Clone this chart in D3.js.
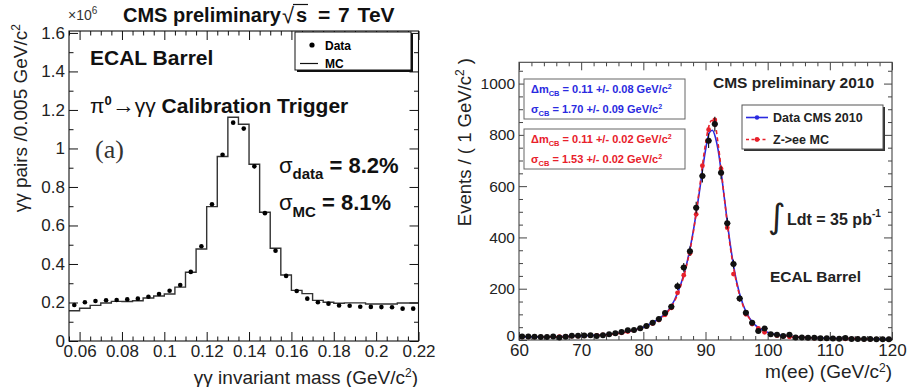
<!DOCTYPE html>
<html><head><meta charset="utf-8">
<script src="https://cdn.jsdelivr.net/npm/d3@7"></script>
<style>
body{margin:0;background:#fff;}
svg{display:block;font-family:"Liberation Sans",Arial,Helvetica,sans-serif;}
</style></head><body>
<svg id="c" width="908" height="387"></svg>
<script>
// ---------- Left panel: pi0 -> gamma gamma ----------
const pi0BinCenters = [0.0575,0.0625,0.0675,0.0725,0.0775,0.0825,0.0875,0.0925,0.0975,0.1025,0.1075,0.1125,0.1175,0.1225,0.1275,0.1325,0.1375,0.1425,0.1475,0.1525,0.1575,0.1625,0.1675,0.1725,0.1775,0.1825,0.1875,0.1925,0.1975,0.2025,0.2075,0.2125,0.2175];
const pi0Data = [0.187,0.201,0.208,0.212,0.213,0.216,0.220,0.230,0.244,0.261,0.291,0.359,0.492,0.710,0.967,1.134,1.103,0.907,0.664,0.469,0.338,0.260,0.220,0.201,0.194,0.184,0.183,0.178,0.177,0.176,0.175,0.168,0.168];
const pi0MC   = [0.157,0.170,0.185,0.197,0.206,0.205,0.209,0.223,0.234,0.244,0.280,0.357,0.478,0.698,0.958,1.162,1.126,0.918,0.669,0.482,0.343,0.263,0.246,0.211,0.201,0.196,0.198,0.198,0.192,0.192,0.192,0.197,0.197];
const pi0XTicks = [0.06,0.08,0.1,0.12,0.14,0.16,0.18,0.2,0.22];
const pi0YTicks = [0,0.2,0.4,0.6,0.8,1,1.2,1.4,1.6];

// ---------- Right panel: Z -> ee ----------
const zMass = [60.5,61.5,62.5,63.5,64.5,65.5,66.5,67.5,68.5,69.5,70.5,71.5,72.5,73.5,74.5,75.5,76.5,77.5,78.5,79.5,80.5,81.5,82.5,83.5,84.5,85.5,86.5,87.5,88.5,89.5,90.5,91.5,92.5,93.5,94.5,95.5,96.5,97.5,98.5,99.5,100.5,101.5,102.5,103.5,104.5,105.5,106.5,107.5,108.5,109.5,110.5,111.5,112.5,113.5,114.5,115.5,116.5,117.5,118.5,119.5];
const zData = [14,14,13,12,12,14,10,13,17,17,18,19,16,19,22,26,31,38,39,46,55,67,82,105,130,210,283,346,516,640,777,842,652,455,296,162,106,67,35,45,22,20,16,20,10,10,9,9,7,7,6,5,8,4,4,4,4,3,3,3];
const zMC = [12,12,12,12,12,13,13,14,15,15,16,17,18,20,22,25,28,33,38,45,53,64,78,98,125,184,253,338,490,680,820,858,668,438,257,160,100,62,45,30,22,17,14,12,10,9,8,7,6,6,5,5,4,4,4,3,3,3,3,3];
const fitMass = [60,65,70,74,77,80,82,84,85,86,87,88,89,90,90.6,91.1,91.6,92,93,94,95,96,97,98,100,103,106,110,115,120];
const fitData = [12,12,16,21,30,50,75,115,155,215,300,420,575,740,808,818,790,745,560,370,228,140,88,58,30,16,10,7,5,4];
const fitMCMass = [60,65,70,74,77,80,82,84,85,86,87,88,89,90,90.5,91,91.5,92,93,94,95,96,97,98,100,103,106,110,115,120];
const fitMC = [11,12,15,20,29,49,73,112,150,210,295,415,585,765,830,856,845,770,560,360,222,137,86,57,29,15,10,7,5,3];
const zXTicks = [60,70,80,90,100,110,120];
const zYTicks = [0,200,400,600,800,1000];

const svg = d3.select("#c");
const BLUE = "#2a2ae0", RED = "#e8202a";

function styleAxis(g, fs, col){
  g.select(".domain").remove();
  g.selectAll(".tick line").attr("stroke", col).attr("stroke-width", 1);
  g.selectAll(".tick text").attr("font-size", fs).attr("fill", "#222").attr("font-family", '"Liberation Sans",Arial,sans-serif');
}
function frameAxes(g, x, y, opt){
  const [x0,x1] = x.range(), [y0,y1] = y.range();
  const b = g.append("g").attr("transform",`translate(0,${y0})`)
    .call(d3.axisBottom(x).tickValues(opt.xMajor).tickSize(-opt.majLen).tickPadding(opt.xPad).tickFormat(opt.xFmt));
  styleAxis(b, opt.xFs, opt.col);
  const bm = g.append("g").attr("transform",`translate(0,${y0})`)
    .call(d3.axisBottom(x).tickValues(opt.xMinor).tickSize(-opt.minLen).tickFormat(""));
  styleAxis(bm, 10, opt.col);
  const t = g.append("g").attr("transform",`translate(0,${y1})`)
    .call(d3.axisTop(x).tickValues(opt.xMajor).tickSize(-opt.majLen).tickFormat(""));
  styleAxis(t, 10, opt.col);
  const tm = g.append("g").attr("transform",`translate(0,${y1})`)
    .call(d3.axisTop(x).tickValues(opt.xMinor).tickSize(-opt.minLen).tickFormat(""));
  styleAxis(tm, 10, opt.col);
  const l = g.append("g").attr("transform",`translate(${x0},0)`)
    .call(d3.axisLeft(y).tickValues(opt.yMajor).tickSize(-opt.majLen).tickPadding(opt.yPad).tickFormat(opt.yFmt));
  styleAxis(l, opt.yFs, opt.col);
  if (opt.yZeroShift) l.selectAll(".tick text").filter(d=>d===0).attr("dy", opt.yZeroShift);
  const lm = g.append("g").attr("transform",`translate(${x0},0)`)
    .call(d3.axisLeft(y).tickValues(opt.yMinor).tickSize(-opt.minLen).tickFormat(""));
  styleAxis(lm, 10, opt.col);
  const r = g.append("g").attr("transform",`translate(${x1},0)`)
    .call(d3.axisRight(y).tickValues(opt.yMajor).tickSize(-opt.majLen).tickFormat(""));
  styleAxis(r, 10, opt.col);
  const rm = g.append("g").attr("transform",`translate(${x1},0)`)
    .call(d3.axisRight(y).tickValues(opt.yMinor).tickSize(-opt.minLen).tickFormat(""));
  styleAxis(rm, 10, opt.col);
  g.append("rect").attr("x",x0).attr("y",y1).attr("width",x1-x0).attr("height",y0-y1)
    .attr("fill","none").attr("stroke",opt.col).attr("stroke-width",1.1);
}

// ================= LEFT =================
const xL = d3.scaleLinear().domain([0.055,0.22]).range([69,418.5]);
const yL = d3.scaleLinear().domain([0,1.61]).range([341,31]);
const gL = svg.append("g");

const stepPts = pi0BinCenters.map((c,i)=>[c-0.0025, pi0MC[i]]);
stepPts.push([pi0BinCenters[pi0BinCenters.length-1]+0.0025, pi0MC[pi0MC.length-1]]);
gL.append("path").datum(stepPts)
  .attr("d", d3.line().x(d=>xL(d[0])).y(d=>yL(d[1])).curve(d3.curveStepAfter))
  .attr("fill","none").attr("stroke","#333").attr("stroke-width",1.4);
gL.selectAll("circle.d").data(pi0BinCenters).join("circle")
  .attr("cx",d=>xL(d)).attr("cy",(d,i)=>yL(pi0Data[i])).attr("r",2.3).attr("fill","#000");

frameAxes(gL, xL, yL, {
  xMajor: pi0XTicks, xMinor: d3.range(0.055,0.2201,0.005).filter(v=>Math.abs(Math.round(v*50)-v*50)>1e-6),
  yMajor: pi0YTicks, yMinor: d3.range(0.1,1.61,0.2),
  majLen: 9, minLen: 4.5, xPad: 4, yPad: 4, xFs: 17, yFs: 17, col: "#111",
  xFmt: d=>String(+d.toFixed(2)), yFmt: d=>String(+d.toFixed(1))
});

gL.append("text").attr("transform","translate(27,24) rotate(-90)").attr("text-anchor","end")
  .attr("font-size",19).attr("fill","#222")
  .html('γγ pairs /0.005 GeV/c<tspan dy="-7" font-size="12">2</tspan>');
gL.append("text").attr("x",418).attr("y",384).attr("text-anchor","end")
  .attr("font-size",19).attr("fill","#222")
  .html('γγ invariant mass (GeV/c<tspan dy="-7" font-size="12">2</tspan><tspan dy="7">)</tspan>');
gL.append("text").attr("x",68).attr("y",20).attr("font-size",14).attr("fill","#333")
  .html('×10<tspan dy="-6" font-size="10">6</tspan>');

gL.append("text").attr("x",123).attr("y",22).attr("font-weight","bold").attr("font-size",20).attr("fill","#111").text("CMS preliminary");
gL.append("text").attr("x",282).attr("y",23).attr("font-size",22).attr("fill","#111").text("√");
gL.append("line").attr("x1",293).attr("x2",308).attr("y1",4.5).attr("y2",4.5).attr("stroke","#111").attr("stroke-width",1.2);
gL.append("text").attr("x",296).attr("y",22).attr("font-weight","bold").attr("font-size",20).attr("fill","#111").text("s");
gL.append("text").attr("x",318).attr("y",22).attr("font-weight","bold").attr("font-size",21).attr("fill","#111")
  .attr("word-spacing",2).text("= 7 TeV");

gL.append("rect").attr("x",297).attr("y",34).attr("width",116).attr("height",38).attr("fill","#111");
gL.append("rect").attr("x",295).attr("y",32).attr("width",116).attr("height",38).attr("fill","#fff").attr("stroke","#111").attr("stroke-width",1);
gL.append("circle").attr("cx",312).attr("cy",45).attr("r",2.6).attr("fill","#000");
gL.append("text").attr("x",325).attr("y",49.5).attr("font-size",12).attr("font-weight","bold").text("Data");
gL.append("line").attr("x1",300).attr("x2",318).attr("y1",63.5).attr("y2",63.5).attr("stroke","#111").attr("stroke-width",1.2);
gL.append("text").attr("x",325).attr("y",67.5).attr("font-size",12).attr("font-weight","bold").text("MC");

gL.append("text").attr("x",90).attr("y",65).attr("font-size",21).attr("font-weight","bold").attr("fill","#111").text("ECAL Barrel");
gL.append("text").attr("x",90).attr("y",113).attr("font-size",21).attr("fill","#111")
  .html('π<tspan dy="-8" font-size="13" font-weight="bold">0</tspan><tspan dy="8" font-size="23">→</tspan><tspan>γγ</tspan><tspan font-weight="bold"> Calibration Trigger</tspan>');
gL.append("text").attr("x",95).attr("y",158).attr("font-size",26).attr("font-family",'"Liberation Serif","DejaVu Serif",serif').attr("fill","#333").text("(a)");
gL.append("text").attr("x",279).attr("y",173).attr("font-size",22).attr("fill","#111")
  .html('σ<tspan dy="6" font-size="15" font-weight="bold">data</tspan><tspan dy="-6" font-weight="bold"> = 8.2%</tspan>');
gL.append("text").attr("x",279).attr("y",210).attr("font-size",22).attr("fill","#111")
  .html('σ<tspan dy="7" font-size="15" font-weight="bold">MC</tspan><tspan dy="-7" font-weight="bold"> = 8.1%</tspan>');

// ================= RIGHT =================
const xR = d3.scaleLinear().domain([60,120]).range([519,892]);
const yR = d3.scaleLinear().domain([0,1083]).range([340,62.3]);
const gR = svg.append("g");

frameAxes(gR, xR, yR, {
  xMajor: zXTicks, xMinor: d3.range(62,120,2).filter(v=>v%10!==0),
  yMajor: zYTicks, yMinor: d3.range(50,1080,50).filter(v=>v%200!==0),
  majLen: 8, minLen: 4, xPad: 4, yPad: 4, xFs: 17, yFs: 15.5, col: "#444",
  xFmt: d=>String(d), yFmt: d=>String(d), yZeroShift: "0em"
});

const fitLine = d3.line().x(d=>xR(d[0])).y(d=>yR(d[1])).curve(d3.curveMonotoneX);
gR.append("path").datum(fitMass.map((m,i)=>[m,fitData[i]])).attr("d",fitLine)
  .attr("fill","none").attr("stroke",BLUE).attr("stroke-width",1.6);
gR.append("path").datum(fitMCMass.map((m,i)=>[m,fitMC[i]])).attr("d",fitLine)
  .attr("fill","none").attr("stroke",RED).attr("stroke-width",1.6).attr("stroke-dasharray","4,3");
gR.selectAll("circle.mc").data(zMass).join("circle").attr("class","mc")
  .attr("cx",d=>xR(d)).attr("cy",(d,i)=>yR(zMC[i])).attr("r",2.4).attr("fill",RED);
const gE = gR.append("g").attr("stroke","#111").attr("stroke-width",1.1);
zMass.forEach((m,i)=>{
  const v = zData[i], e = Math.sqrt(v);
  gE.append("line").attr("x1",xR(m)).attr("x2",xR(m)).attr("y1",yR(v-e)).attr("y2",yR(v+e));
  gE.append("line").attr("x1",xR(m-0.5)).attr("x2",xR(m+0.5)).attr("y1",yR(v)).attr("y2",yR(v));
});
gR.selectAll("circle.dt").data(zMass).join("circle").attr("class","dt")
  .attr("cx",d=>xR(d)).attr("cy",(d,i)=>yR(zData[i])).attr("r",3).attr("fill","#111");

gR.append("text").attr("transform","translate(471,58) rotate(-90)").attr("text-anchor","end")
  .attr("font-size",18.5).attr("fill","#222")
  .html('Events / ( 1 GeV/c<tspan dy="-7" font-size="12">2</tspan><tspan dy="7"> )</tspan>');
gR.append("text").attr("x",892).attr("y",378).attr("text-anchor","end")
  .attr("font-size",19).attr("fill","#222")
  .html('m(ee) (GeV/c<tspan dy="-6" font-size="12">2</tspan><tspan dy="6">)</tspan>');
gR.append("text").attr("x",713).attr("y",88).attr("font-size",15.5).attr("font-weight","bold").attr("fill","#222").text("CMS preliminary 2010");

function fitBox(y, col, l1, l2){
  gR.append("rect").attr("x",524).attr("y",y).attr("width",161).attr("height",40)
    .attr("fill","#fff").attr("stroke","#666").attr("stroke-width",1);
  gR.append("text").attr("x",531).attr("y",y+14).attr("font-size",11).attr("font-weight","bold").attr("fill",col)
    .html(`Δm<tspan dy="2.5" font-size="7.5">CB</tspan><tspan dy="-2.5"> =  ${l1} GeV/c</tspan><tspan dy="-4" font-size="7">2</tspan>`);
  gR.append("text").attr("x",531).attr("y",y+34).attr("font-size",11).attr("font-weight","bold").attr("fill",col)
    .html(`σ<tspan dy="2.5" font-size="7.5">CB</tspan><tspan dy="-2.5"> =  ${l2} GeV/c</tspan><tspan dy="-4" font-size="7">2</tspan>`);
}
fitBox(79, BLUE, "0.11 +/- 0.08", "1.70 +/- 0.09");
fitBox(129, RED, "0.11 +/- 0.02", "1.53 +/- 0.02");

gR.append("rect").attr("x",744).attr("y",107).attr("width",141).attr("height",44).attr("fill","#333");
gR.append("rect").attr("x",742).attr("y",105).attr("width",141).attr("height",44).attr("fill","#fff").attr("stroke","#555").attr("stroke-width",1);
gR.append("line").attr("x1",746).attr("x2",768).attr("y1",117.5).attr("y2",117.5).attr("stroke",BLUE).attr("stroke-width",1.6);
gR.append("circle").attr("cx",757).attr("cy",117.5).attr("r",2.2).attr("fill",BLUE);
gR.append("text").attr("x",773).attr("y",122).attr("font-size",12.5).attr("font-weight","bold").attr("fill","#222").text("Data CMS 2010");
gR.append("line").attr("x1",746).attr("x2",768).attr("y1",139.5).attr("y2",139.5).attr("stroke",RED).attr("stroke-width",1.6).attr("stroke-dasharray","3,2.5");
gR.append("circle").attr("cx",757).attr("cy",139.5).attr("r",2.4).attr("fill",RED);
gR.append("text").attr("x",773).attr("y",144).attr("font-size",12.5).attr("font-weight","bold").attr("fill","#222").text("Z->ee MC");

gR.append("text").attr("x",768).attr("y",228).attr("font-size",34).attr("font-family",'"DejaVu Sans",sans-serif').attr("fill","#222").text("∫");
gR.append("text").attr("x",787).attr("y",225).attr("font-size",16).attr("font-weight","bold").attr("fill","#222")
  .html('Ldt = 35 pb<tspan dy="-8" font-size="10">-1</tspan>');
gR.append("text").attr("x",770).attr("y",282).attr("font-size",15.5).attr("font-weight","bold").attr("fill","#222").text("ECAL Barrel");
</script>
</body></html>
